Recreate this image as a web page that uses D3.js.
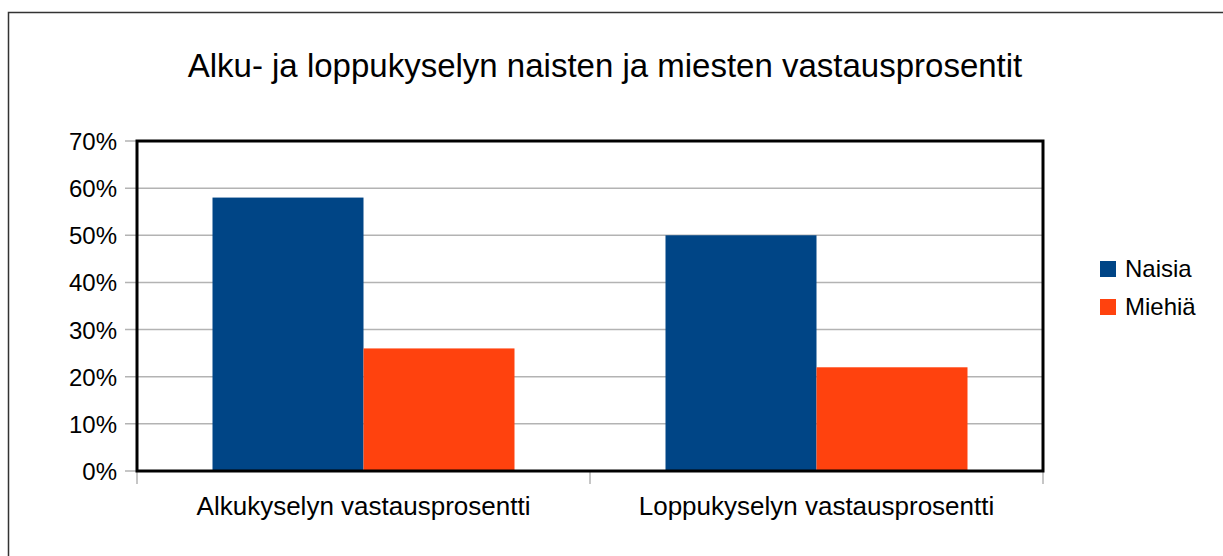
<!DOCTYPE html>
<html><head><meta charset="utf-8">
<script src="https://cdn.jsdelivr.net/npm/d3@7"></script>
<style>body{margin:0;background:#fff}svg{display:block;font-family:"Liberation Sans",Arial,sans-serif}</style>
</head><body><svg id="c" width="1223" height="556"></svg>
<script>
const categories = ["Alkukyselyn vastausprosentti", "Loppukyselyn vastausprosentti"];
const seriesNames = ["Naisia", "Miehiä"];
const naisia = [58, 50];
const miehia = [26, 22];
const yTicks = [0, 10, 20, 30, 40, 50, 60, 70];
const colors = ["#004586", "#ff420e"];
const title = "Alku- ja loppukyselyn naisten ja miesten vastausprosentit";

const svg = d3.select("#c");
svg.append("rect").attr("x", 8.5).attr("y", 12.5).attr("width", 1300).attr("height", 700)
  .attr("fill", "#fff").attr("stroke", "#333").attr("stroke-width", 1.5);

const L = 137, R = 1043, T = 141, B = 471;
const x0 = d3.scaleBand().domain(categories).range([L, R]).paddingInner(1/3).paddingOuter(1/6);
const x0b = d3.scaleBand().domain(categories).range([L, R]);
const x1 = d3.scaleBand().domain(seriesNames).range([0, x0.bandwidth()]);
const y = d3.scaleLinear().domain([0, 70]).range([B, T]);

svg.append("text").attr("x", 605).attr("y", 77).attr("text-anchor", "middle")
  .attr("font-size", 33).attr("fill", "#000").text(title);

// grid
svg.append("g").selectAll("line").data(yTicks).join("line")
  .attr("x1", 125).attr("x2", R).attr("y1", d => y(d)).attr("y2", d => y(d))
  .attr("stroke", "#b3b3b3").attr("stroke-width", 1.5);

// y labels
svg.append("g").selectAll("text").data(yTicks).join("text")
  .attr("x", 117).attr("y", d => y(d) + 9).attr("text-anchor", "end")
  .attr("font-size", 24).attr("fill", "#000").text(d => d + "%");

// bars
const data = categories.map((c, i) => ({c, vals: [naisia[i], miehia[i]]}));
svg.append("g").selectAll("g").data(data).join("g")
  .attr("transform", d => `translate(${x0(d.c)},0)`)
  .selectAll("rect").data(d => d.vals.map((v, j) => ({s: seriesNames[j], v, j})))
  .join("rect")
  .attr("x", d => x1(d.s)).attr("width", x1.bandwidth())
  .attr("y", d => y(d.v)).attr("height", d => B - y(d.v))
  .attr("fill", d => colors[d.j]);

// x ticks
const xt = [L, ...categories.map(c => x0b(c) + x0b.bandwidth())];
svg.append("g").selectAll("line").data(xt).join("line")
  .attr("x1", d => d).attr("x2", d => d).attr("y1", B).attr("y2", 484)
  .attr("stroke", "#b3b3b3").attr("stroke-width", 1.5);

// frame
svg.append("rect").attr("x", L).attr("y", T).attr("width", R - L).attr("height", B - T)
  .attr("fill", "none").attr("stroke", "#000").attr("stroke-width", 3);

// x labels
svg.append("g").selectAll("text").data(categories).join("text")
  .attr("x", d => x0b(d) + x0b.bandwidth() / 2).attr("y", 515).attr("text-anchor", "middle")
  .attr("font-size", 26).attr("fill", "#000").text(d => d);

// legend
const lg = svg.append("g").selectAll("g").data(seriesNames).join("g")
  .attr("transform", (d, i) => `translate(1100,${261 + i * 38})`);
lg.append("rect").attr("width", 16).attr("height", 16).attr("fill", (d, i) => colors[i]);
lg.append("text").attr("x", 25).attr("y", 15.5).attr("font-size", 24).attr("fill", "#000").text(d => d);
</script></body></html>
